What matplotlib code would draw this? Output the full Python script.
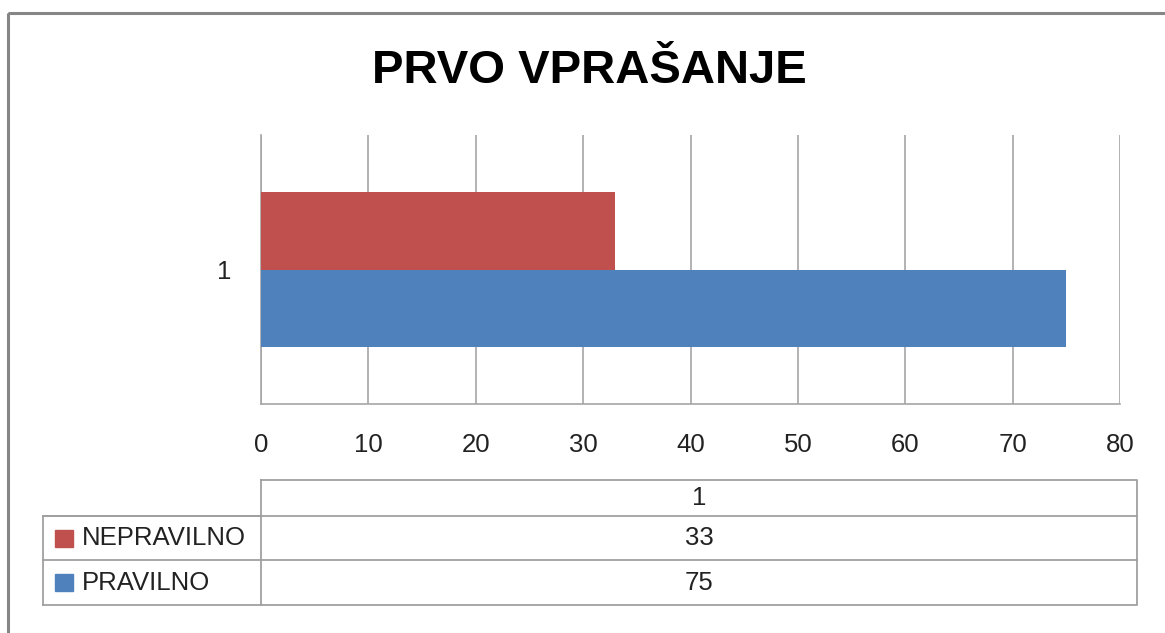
import matplotlib.pyplot as plt
from matplotlib.patches import Rectangle

plt.rcParams['font.family'] = ['Liberation Sans', 'DejaVu Sans']

title = "PRVO VPRAŠANJE"
categories = ["1"]
series_names = ["NEPRAVILNO", "PRAVILNO"]
nepravilno = [33]
pravilno = [75]
xticks = [0, 10, 20, 30, 40, 50, 60, 70, 80]
colors = ["#C0504D", "#4F81BD"]

W, H = 1165, 633
fig = plt.figure(figsize=(W / 100, H / 100), dpi=100)
fs = 18.5


def box(x0, y0, x1, y1):
    # pixel box (top-left origin) -> figure fraction rect
    return [x0 / W, 1 - y1 / H, (x1 - x0) / W, (y1 - y0) / H]


# overlay in pixel coords for frame and table
ov = fig.add_axes([0, 0, 1, 1])
ov.set_xlim(0, W)
ov.set_ylim(H, 0)
ov.axis("off")
ov.add_patch(Rectangle((8, 13), 1200, 700, fill=False, edgecolor="#868686", lw=2.2))

ov.text(589, 71, title, ha="center", va="center", fontsize=34, fontweight="bold")

# bar chart
ax = fig.add_axes(box(261, 135, 1120, 404))
h = 0.288
ypos = list(range(len(categories)))
ax.barh([y + h / 2 for y in ypos], nepravilno, height=h, color=colors[0], zorder=3)
ax.barh([y - h / 2 for y in ypos], pravilno, height=h, color=colors[1], zorder=3)
ax.set_xlim(xticks[0], xticks[-1])
ax.set_ylim(-0.5, 0.5)
ax.set_xticks(xticks)
ax.set_yticks(ypos)
ax.set_yticklabels(categories)
ax.grid(axis="x", color="#A6A6A6", lw=1.2, zorder=0)
for s in ["top", "right"]:
    ax.spines[s].set_visible(False)
for s in ["left", "bottom"]:
    ax.spines[s].set_color("#A6A6A6")
    ax.spines[s].set_linewidth(1.2)
ax.tick_params(axis="both", length=0, labelsize=fs, colors="#222222")
ax.tick_params(axis="x", pad=21)
ax.tick_params(axis="y", pad=21)

# data table
lc = "#A0A0A0"
tx0, tx1 = 261, 1137
lx0 = 43
rows_y = [480, 516, 560, 605]
ov.plot([tx0, tx1, tx1, tx0, tx0], [rows_y[0], rows_y[0], rows_y[-1], rows_y[-1], rows_y[0]], color=lc, lw=1.3)
ov.plot([lx0, tx0], [rows_y[1], rows_y[1]], color=lc, lw=1.3)
ov.plot([lx0, lx0], [rows_y[1], rows_y[-1]], color=lc, lw=1.3)
ov.plot([lx0, tx0], [rows_y[-1], rows_y[-1]], color=lc, lw=1.3)
for y in rows_y[1:-1]:
    ov.plot([lx0, tx1], [y, y], color=lc, lw=1.3)
ov.text((tx0 + tx1) / 2, (rows_y[0] + rows_y[1]) / 2, categories[0],
        ha="center", va="center", fontsize=fs, color="#222222")
values = [nepravilno, pravilno]
for i, name in enumerate(series_names):
    yc = (rows_y[i + 1] + rows_y[i + 2]) / 2
    ov.add_patch(Rectangle((55, yc - 8.5), 18, 17, color=colors[i]))
    ov.text(82, yc, name, ha="left", va="center", fontsize=fs, color="#222222")
    ov.text((tx0 + tx1) / 2, yc, str(values[i][0]),
            ha="center", va="center", fontsize=fs, color="#222222")

fig.savefig("out.png", dpi=100)
